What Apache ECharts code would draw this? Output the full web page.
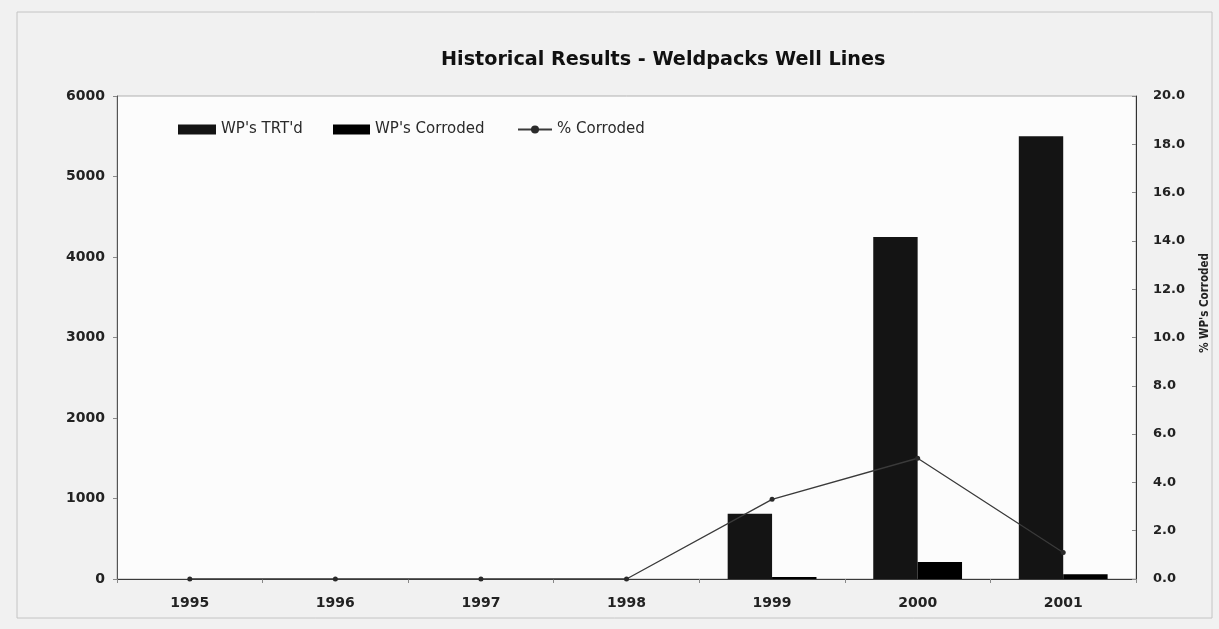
<!DOCTYPE html>
<html>
<head>
<meta charset="utf-8">
<script src="https://cdn.jsdelivr.net/npm/echarts@6/dist/echarts.min.js"></script>
<style>
  html, body { margin: 0; padding: 0; background: #f1f1f1; }
  #chart { width: 1219px; height: 629px; }
</style>
</head>
<body>
<div id="chart"></div>
<script>
// Weldpack inspection history, by year
const years = ['1995', '1996', '1997', '1998', '1999', '2000', '2001'];
const wpTreated = [0, 0, 0, 0, 810, 4250, 5500];
const wpCorroded = [0, 0, 0, 0, 25, 210, 60];
const pctCorroded = [0, 0, 0, 0, 3.3, 5.0, 1.1];
const leftTicks = { min: 0, max: 6000, interval: 1000 };
const rightTicks = { min: 0, max: 20, interval: 2 };

const WIDE = '"DejaVu Sans", Verdana, sans-serif';
const CONDENSED = '"Liberation Sans Narrow", "Arial Narrow", "DejaVu Sans Condensed", sans-serif';
const chart = echarts.init(document.getElementById('chart'), null, { renderer: 'canvas' });

const legendText = { fontFamily: WIDE, fontSize: 15, color: '#2a2a2a' };
const tickText = { fontFamily: WIDE, fontSize: 13, fontWeight: 'bold', color: '#222' };

chart.setOption({
  backgroundColor: '#f1f1f1',
  animation: false,
  title: {
    text: 'Historical Results - Weldpacks Well Lines',
    left: 436,
    top: 46,
    textStyle: { fontFamily: WIDE, fontSize: 19.2, fontWeight: 'bold', color: '#111' }
  },
  graphic: [
    {
      type: 'rect',
      shape: { x: 17, y: 12, width: 1195, height: 606 },
      style: { fill: 'none', stroke: '#c4c4c4', lineWidth: 1 },
      silent: true, z: -1
    },
    {
      // right-axis title, placed a little above the axis midpoint
      type: 'text',
      x: 1205, y: 303,
      rotation: Math.PI / 2,
      style: {
        text: '% WP\'s Corroded',
        fontFamily: CONDENSED, fontSize: 11.5, fontWeight: 'bold', fill: '#222',
        align: 'center', verticalAlign: 'middle'
      },
      silent: true
    }
  ],
  legend: [
    { data: [{ name: 'WP\'s TRT\'d', icon: 'rect' }], left: 173, top: 117, itemWidth: 38, itemHeight: 10, itemGap: 0, textStyle: legendText },
    { data: [{ name: 'WP\'s Corroded', icon: 'rect' }], left: 328, top: 117, itemWidth: 37, itemHeight: 10, textStyle: legendText },
    { data: ['% Corroded'], left: 512, top: 117, itemWidth: 34, itemHeight: 10, textStyle: legendText }
  ],
  grid: {
    left: 117, right: 83, top: 96, bottom: 50,
    show: true, backgroundColor: '#fcfcfc', borderColor: '#b0b0b0', borderWidth: 1
  },
  xAxis: {
    type: 'category',
    data: years,
    boundaryGap: true,
    axisLine: { lineStyle: { color: '#3a3a3a', width: 1 } },
    axisTick: { show: true, length: 4, lineStyle: { color: '#888' } },
    axisLabel: Object.assign({}, tickText, { margin: 17, fontSize: 14 })
  },
  yAxis: [
    {
      type: 'value',
      min: leftTicks.min, max: leftTicks.max, interval: leftTicks.interval,
      axisLine: { show: true, lineStyle: { color: '#555' } },
      axisTick: { show: true, length: 4, lineStyle: { color: '#888' } },
      splitLine: { show: false },
      axisLabel: Object.assign({}, tickText, { margin: 12, fontSize: 14, formatter: v => String(v) })
    },
    {
      type: 'value',
      position: 'right',
      min: rightTicks.min, max: rightTicks.max, interval: rightTicks.interval,
      axisLine: { show: true, lineStyle: { color: '#333' } },
      axisTick: { show: true, inside: true, length: 4, lineStyle: { color: '#888' } },
      splitLine: { show: false },
      axisLabel: Object.assign({}, tickText, { margin: 17, formatter: v => v.toFixed(1) })
    }
  ],
  series: [
    {
      name: 'WP\'s TRT\'d',
      type: 'bar',
      data: wpTreated,
      barGap: '0%',
      barCategoryGap: '39%',
      itemStyle: { color: '#141414' }
    },
    {
      name: 'WP\'s Corroded',
      type: 'bar',
      data: wpCorroded,
      itemStyle: { color: '#000' }
    },
    {
      name: '% Corroded',
      type: 'line',
      yAxisIndex: 1,
      data: pctCorroded,
      symbol: 'circle',
      symbolSize: 5,
      lineStyle: { color: '#3a3a3a', width: 1.3 },
      itemStyle: { color: '#2a2a2a' },
      z: 3
    }
  ]
});
</script>
</body>
</html>
